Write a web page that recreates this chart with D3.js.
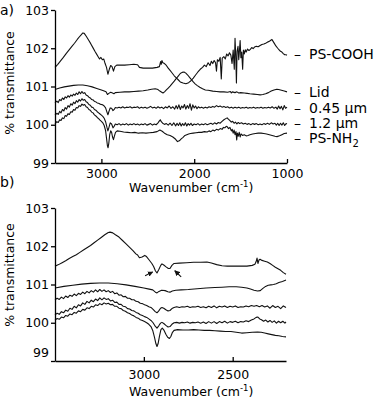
<!DOCTYPE html>
<html>
<head>
<meta charset="utf-8">
<script src="https://cdn.jsdelivr.net/npm/d3@7"></script>
<style>
body { margin: 0; background: #fff; }
svg { display: block; font-family: "DejaVu Sans", sans-serif; }
.axis path, .axis line { stroke: #000; stroke-width: 1.3; }
.axis text { font-size: 12.5px; fill: #000; font-family: "DejaVu Sans", sans-serif; }
.spec { fill: none; stroke: #111; stroke-width: 1.1; stroke-linejoin: round; }
.lbl { font-size: 12.5px; fill: #000; }
.leg { font-size: 14px; fill: #000; }
</style>
</head>
<body>
<div id="chart"></div>
<script>
// ---- panel a) spectra, [wavenumber, %T]
var aCooh = [[3500,101.50],[3470,101.58],[3440,101.67],[3410,101.76],[3380,101.86],[3350,101.95],[3320,102.04],[3290,102.13],[3260,102.23],[3230,102.32],[3200,102.40],[3185,102.39],[3165,102.32],[3140,102.22],[3115,102.12],[3090,102.01],[3070,101.92],[3050,101.84],[3035,101.78],[3020,101.72],[3005,101.76],[2990,101.70],[2975,101.72],[2960,101.60],[2945,101.50],[2930,101.32],[2915,101.45],[2900,101.55],[2885,101.52],[2870,101.40],[2855,101.52],[2835,101.56],[2800,101.56],[2750,101.56],[2700,101.57],[2650,101.58],[2610,101.57],[2590,101.50],[2550,101.48],[2500,101.48],[2450,101.48],[2400,101.50],[2375,101.52],[2362,101.65],[2355,101.58],[2348,101.68],[2338,101.62],[2320,101.60],[2300,101.55],[2280,101.48],[2260,101.42],[2240,101.36],[2215,101.28],[2190,101.22],[2170,101.17],[2150,101.12],[2120,101.09],[2090,101.07],[2060,101.10],[2035,101.15],[2010,101.22],[1985,101.30],[1960,101.38],[1935,101.45],[1910,101.50],[1890,101.56],[1870,101.52],[1850,101.62],[1830,101.55],[1815,101.66],[1800,101.60],[1785,101.68],[1770,101.62],[1760,101.40],[1750,101.70],[1735,101.66],[1720,101.76],[1708,101.20],[1698,101.74],[1680,101.78],[1665,101.72],[1650,101.85],[1635,101.80],[1620,101.88],[1605,101.82],[1592,101.60],[1580,101.95],[1568,101.45],[1560,102.26],[1552,101.80],[1545,101.09],[1538,101.92],[1528,102.05],[1520,101.70],[1512,101.95],[1505,102.20],[1497,101.75],[1488,101.90],[1478,101.45],[1470,101.95],[1460,101.85],[1450,101.96],[1440,101.90],[1425,101.98],[1410,101.94],[1395,101.97],[1380,102.02],[1365,101.99],[1350,102.03],[1330,102.05],[1310,102.04],[1290,102.07],[1270,102.10],[1250,102.11],[1230,102.13],[1210,102.16],[1190,102.18],[1175,102.21],[1162,102.23],[1150,102.18],[1135,102.12],[1120,102.06],[1100,102.00],[1085,101.96],[1070,101.92],[1055,101.90],[1040,101.86],[1025,101.83],[1010,101.83],[1000,101.82]];

var aLid = [[3500,100.92],[3450,100.96],[3400,100.99],[3350,101.01],[3300,101.03],[3250,101.04],[3200,101.04],[3150,101.02],[3100,100.99],[3050,100.95],[3000,100.91],[2970,100.88],[2950,100.86],[2935,100.79],[2920,100.82],[2900,100.85],[2880,100.83],[2865,100.81],[2850,100.84],[2800,100.85],[2750,100.86],[2700,100.86],[2650,100.87],[2600,100.88],[2550,100.89],[2500,100.91],[2460,100.93],[2420,100.94],[2390,100.92],[2370,100.88],[2350,100.85],[2336,100.83],[2320,100.86],[2300,100.91],[2280,100.96],[2260,101.01],[2240,101.07],[2215,101.14],[2190,101.22],[2170,101.28],[2150,101.34],[2130,101.37],[2110,101.38],[2090,101.35],[2070,101.30],[2050,101.24],[2030,101.18],[2010,101.12],[1990,101.07],[1970,101.03],[1940,100.98],[1910,100.94],[1880,100.91],[1850,100.90],[1800,100.88],[1760,100.87],[1720,100.86],[1680,100.86],[1640,100.85],[1610,100.87],[1600,100.83],[1590,100.86],[1560,100.84],[1540,100.86],[1520,100.83],[1500,100.84],[1460,100.83],[1430,100.82],[1400,100.81],[1360,100.80],[1320,100.79],[1290,100.78],[1260,100.79],[1230,100.81],[1200,100.84],[1170,100.88],[1140,100.91],[1110,100.93],[1090,100.92],[1060,100.90],[1030,100.88],[1000,100.86]];

var a045 = [[3500,100.57],[3480,100.62],[3465,100.58],[3450,100.66],[3435,100.63],[3420,100.70],[3405,100.66],[3390,100.73],[3375,100.70],[3360,100.76],[3345,100.72],[3330,100.78],[3315,100.75],[3300,100.80],[3285,100.77],[3270,100.83],[3255,100.79],[3240,100.86],[3225,100.81],[3210,100.87],[3195,100.82],[3180,100.84],[3165,100.78],[3150,100.76],[3135,100.72],[3120,100.70],[3105,100.66],[3090,100.65],[3075,100.61],[3060,100.60],[3045,100.57],[3030,100.56],[3015,100.54],[3000,100.53],[2985,100.52],[2970,100.49],[2955,100.44],[2940,100.33],[2930,100.26],[2920,100.34],[2905,100.44],[2890,100.43],[2875,100.37],[2862,100.40],[2850,100.45],[2830,100.44],[2810,100.46],[2790,100.44],[2770,100.47],[2750,100.44],[2730,100.46],[2710,100.45],[2690,100.47],[2670,100.44],[2650,100.46],[2630,100.45],[2610,100.47],[2590,100.43],[2570,100.46],[2550,100.44],[2530,100.46],[2510,100.43],[2490,100.45],[2470,100.48],[2450,100.44],[2430,100.46],[2410,100.43],[2390,100.47],[2370,100.44],[2350,100.46],[2330,100.42],[2310,100.47],[2290,100.44],[2270,100.49],[2250,100.43],[2230,100.47],[2210,100.41],[2195,100.50],[2180,100.42],[2165,100.52],[2150,100.40],[2135,100.49],[2120,100.44],[2105,100.53],[2090,100.41],[2075,100.50],[2060,100.43],[2045,100.55],[2030,100.38],[2015,100.52],[2000,100.44],[1985,100.49],[1970,100.42],[1955,100.47],[1940,100.44],[1920,100.46],[1900,100.43],[1880,100.46],[1860,100.44],[1840,100.47],[1820,100.45],[1800,100.48],[1780,100.46],[1760,100.50],[1740,100.47],[1720,100.49],[1700,100.46],[1680,100.48],[1660,100.45],[1640,100.47],[1620,100.44],[1600,100.46],[1580,100.43],[1560,100.46],[1540,100.44],[1520,100.46],[1500,100.43],[1480,100.45],[1460,100.44],[1440,100.46],[1420,100.43],[1400,100.45],[1380,100.44],[1360,100.46],[1340,100.43],[1320,100.45],[1300,100.44],[1280,100.46],[1260,100.43],[1240,100.45],[1220,100.44],[1200,100.46],[1180,100.44],[1160,100.47],[1140,100.43],[1120,100.46],[1105,100.41],[1090,100.49],[1075,100.42],[1060,100.48],[1045,100.39],[1030,100.50],[1015,100.43],[1000,100.46]];

var a12 = [[3500,100.25],[3480,100.30],[3465,100.27],[3450,100.35],[3435,100.31],[3420,100.40],[3405,100.36],[3390,100.45],[3375,100.41],[3360,100.50],[3345,100.46],[3330,100.55],[3315,100.51],[3300,100.59],[3285,100.55],[3270,100.63],[3255,100.59],[3240,100.66],[3225,100.62],[3210,100.68],[3195,100.64],[3180,100.66],[3165,100.60],[3150,100.58],[3135,100.53],[3120,100.51],[3105,100.46],[3090,100.45],[3075,100.40],[3060,100.38],[3045,100.34],[3030,100.31],[3015,100.28],[3000,100.25],[2985,100.22],[2970,100.17],[2955,100.08],[2940,99.93],[2930,99.84],[2920,99.92],[2905,100.05],[2890,100.02],[2875,99.92],[2862,99.96],[2850,100.02],[2830,100.00],[2810,100.03],[2790,99.99],[2770,100.02],[2750,100.00],[2730,100.03],[2710,99.99],[2690,100.02],[2670,100.00],[2650,100.03],[2630,100.00],[2610,100.02],[2590,99.99],[2570,100.02],[2550,100.00],[2530,100.03],[2510,99.99],[2490,100.01],[2470,100.03],[2450,99.99],[2430,100.02],[2410,100.00],[2390,100.05],[2375,100.10],[2365,100.13],[2355,100.08],[2340,100.04],[2320,100.01],[2300,100.03],[2280,99.99],[2260,100.04],[2240,99.98],[2220,100.05],[2200,99.97],[2185,100.04],[2170,99.98],[2155,100.05],[2140,99.97],[2125,100.03],[2110,99.98],[2095,100.05],[2080,99.97],[2065,100.03],[2050,99.99],[2035,100.04],[2020,99.98],[2000,100.02],[1980,100.00],[1960,100.03],[1940,99.99],[1920,100.02],[1900,100.00],[1880,100.03],[1860,100.00],[1840,100.02],[1820,100.04],[1800,100.01],[1780,100.05],[1760,100.02],[1740,100.06],[1720,100.04],[1700,100.09],[1680,100.13],[1660,100.16],[1645,100.18],[1630,100.14],[1615,100.11],[1600,100.07],[1585,100.09],[1570,100.04],[1555,100.07],[1540,100.02],[1525,100.06],[1510,100.03],[1490,100.05],[1470,100.02],[1450,100.04],[1430,100.01],[1410,100.03],[1390,100.00],[1370,100.03],[1350,100.01],[1330,100.03],[1310,100.00],[1290,100.02],[1270,100.00],[1250,100.03],[1230,100.01],[1210,100.04],[1190,100.01],[1170,100.05],[1150,100.02],[1130,100.04],[1115,99.99],[1100,100.04],[1085,99.98],[1070,100.04],[1055,99.99],[1040,100.05],[1025,99.98],[1010,100.03],[1000,100.02]];

var aNh2 = [[3500,100.02],[3480,100.08],[3465,100.06],[3450,100.13],[3435,100.11],[3420,100.18],[3405,100.16],[3390,100.24],[3375,100.22],[3360,100.29],[3345,100.27],[3330,100.34],[3315,100.33],[3300,100.40],[3285,100.38],[3270,100.45],[3255,100.44],[3240,100.50],[3225,100.48],[3210,100.54],[3195,100.51],[3180,100.53],[3165,100.47],[3150,100.45],[3135,100.40],[3120,100.38],[3105,100.33],[3090,100.31],[3075,100.26],[3060,100.23],[3045,100.19],[3030,100.16],[3015,100.12],[3000,100.09],[2985,100.05],[2970,99.98],[2955,99.85],[2945,99.65],[2935,99.45],[2928,99.40],[2920,99.52],[2910,99.75],[2900,99.84],[2890,99.80],[2880,99.68],[2870,99.61],[2860,99.70],[2848,99.80],[2830,99.84],[2800,99.83],[2760,99.81],[2720,99.80],[2680,99.79],[2640,99.80],[2600,99.78],[2560,99.79],[2520,99.78],[2480,99.79],[2440,99.80],[2400,99.82],[2370,99.86],[2345,99.83],[2320,99.78],[2290,99.74],[2260,99.72],[2230,99.68],[2200,99.62],[2180,99.56],[2160,99.58],[2140,99.63],[2120,99.67],[2100,99.72],[2080,99.74],[2060,99.76],[2040,99.77],[2010,99.78],[1980,99.79],[1950,99.80],[1920,99.80],[1890,99.82],[1860,99.81],[1840,99.84],[1820,99.82],[1800,99.86],[1780,99.84],[1760,99.88],[1740,99.86],[1720,99.90],[1700,99.88],[1685,99.93],[1670,99.92],[1655,99.96],[1645,99.95],[1630,99.90],[1615,99.93],[1600,99.84],[1590,99.88],[1580,99.78],[1570,99.86],[1560,99.74],[1550,99.82],[1542,99.60],[1535,99.78],[1525,99.70],[1515,99.80],[1505,99.68],[1495,99.76],[1480,99.72],[1460,99.74],[1440,99.71],[1420,99.72],[1400,99.74],[1370,99.76],[1340,99.77],[1310,99.78],[1280,99.78],[1250,99.77],[1220,99.76],[1190,99.74],[1160,99.72],[1130,99.70],[1107,99.69],[1080,99.71],[1055,99.74],[1030,99.77],[1000,99.78]];

// ---- panel b) spectra, close-up of 3500-2200
var bTop = [[3500,101.48],[3480,101.52],[3460,101.57],[3440,101.62],[3420,101.68],[3400,101.73],[3380,101.78],[3360,101.84],[3340,101.90],[3320,101.96],[3300,102.02],[3280,102.09],[3260,102.16],[3240,102.23],[3220,102.30],[3200,102.36],[3190,102.37],[3175,102.35],[3160,102.30],[3140,102.24],[3120,102.15],[3100,102.06],[3080,101.97],[3060,101.88],[3045,101.80],[3035,101.77],[3025,101.70],[3010,101.72],[2995,101.76],[2985,101.73],[2970,101.64],[2955,101.55],[2945,101.47],[2935,101.36],[2926,101.30],[2915,101.40],[2905,101.50],[2898,101.54],[2888,101.51],[2875,101.46],[2862,101.42],[2853,101.42],[2842,101.50],[2830,101.55],[2800,101.56],[2760,101.57],[2720,101.58],[2680,101.58],[2645,101.59],[2620,101.56],[2590,101.52],[2560,101.49],[2530,101.48],[2500,101.48],[2460,101.48],[2420,101.48],[2390,101.50],[2375,101.53],[2368,101.60],[2363,101.69],[2358,101.55],[2352,101.64],[2346,101.66],[2335,101.63],[2320,101.61],[2305,101.59],[2290,101.55],[2275,101.50],[2260,101.45],[2245,101.41],[2230,101.37],[2215,101.31],[2200,101.27]];

var bLid = [[3500,100.91],[3450,100.95],[3400,100.98],[3350,101.01],[3300,101.03],[3250,101.04],[3200,101.04],[3150,101.02],[3100,100.99],[3050,100.95],[3000,100.91],[2970,100.88],[2950,100.86],[2935,100.80],[2926,100.78],[2915,100.82],[2900,100.85],[2880,100.84],[2865,100.81],[2853,100.80],[2840,100.83],[2820,100.85],[2790,100.86],[2750,100.87],[2700,100.89],[2650,100.91],[2600,100.92],[2560,100.93],[2520,100.94],[2480,100.94],[2450,100.93],[2420,100.91],[2400,100.88],[2380,100.85],[2360,100.83],[2345,100.84],[2330,100.90],[2315,100.95],[2300,100.98],[2285,100.99],[2270,101.00],[2255,101.02],[2240,101.05],[2220,101.08],[2200,101.12]];

var b045 = [[3500,100.60],[3488,100.64],[3476,100.61],[3464,100.67],[3452,100.63],[3440,100.70],[3428,100.66],[3416,100.72],[3404,100.69],[3392,100.75],[3380,100.71],[3368,100.77],[3356,100.74],[3344,100.80],[3332,100.76],[3320,100.82],[3308,100.78],[3296,100.84],[3284,100.80],[3272,100.86],[3260,100.81],[3248,100.87],[3236,100.82],[3224,100.86],[3212,100.81],[3200,100.84],[3188,100.79],[3176,100.82],[3164,100.76],[3152,100.78],[3140,100.72],[3128,100.73],[3116,100.68],[3104,100.69],[3092,100.64],[3080,100.64],[3068,100.60],[3056,100.60],[3044,100.56],[3032,100.55],[3020,100.51],[3008,100.50],[2996,100.47],[2984,100.45],[2972,100.42],[2960,100.40],[2948,100.35],[2936,100.29],[2926,100.26],[2916,100.31],[2906,100.38],[2898,100.40],[2888,100.38],[2876,100.34],[2864,100.31],[2853,100.32],[2842,100.37],[2830,100.40],[2815,100.42],[2800,100.40],[2785,100.42],[2770,100.41],[2755,100.43],[2740,100.40],[2725,100.42],[2710,100.41],[2695,100.43],[2680,100.40],[2665,100.42],[2650,100.39],[2635,100.43],[2620,100.40],[2605,100.44],[2590,100.39],[2575,100.43],[2560,100.41],[2545,100.44],[2530,100.40],[2515,100.43],[2500,100.41],[2485,100.44],[2470,100.40],[2455,100.42],[2440,100.41],[2425,100.44],[2410,100.42],[2395,100.45],[2380,100.43],[2365,100.45],[2350,100.42],[2335,100.45],[2320,100.41],[2305,100.44],[2290,100.38],[2275,100.45],[2260,100.40],[2245,100.43],[2230,100.37],[2215,100.44],[2200,100.40]];

var b12 = [[3500,100.20],[3488,100.25],[3476,100.22],[3464,100.29],[3452,100.26],[3440,100.33],[3428,100.30],[3416,100.38],[3404,100.35],[3392,100.43],[3380,100.39],[3368,100.47],[3356,100.44],[3344,100.52],[3332,100.48],[3320,100.56],[3308,100.52],[3296,100.59],[3284,100.55],[3272,100.62],[3260,100.58],[3248,100.65],[3236,100.60],[3224,100.65],[3212,100.61],[3200,100.63],[3188,100.57],[3176,100.59],[3164,100.53],[3152,100.54],[3140,100.48],[3128,100.48],[3116,100.43],[3104,100.42],[3092,100.37],[3080,100.36],[3068,100.32],[3056,100.31],[3044,100.27],[3032,100.25],[3020,100.21],[3008,100.19],[2996,100.16],[2984,100.14],[2972,100.10],[2960,100.06],[2948,100.00],[2936,99.91],[2926,99.86],[2916,99.92],[2906,99.99],[2898,100.01],[2888,99.98],[2876,99.93],[2864,99.89],[2853,99.90],[2842,99.96],[2830,100.00],[2815,100.01],[2800,99.99],[2785,100.01],[2770,100.00],[2755,100.02],[2740,99.99],[2725,100.01],[2710,100.00],[2695,100.02],[2680,99.99],[2665,100.02],[2650,99.98],[2635,100.03],[2620,99.99],[2605,100.03],[2590,99.98],[2575,100.03],[2560,100.00],[2545,100.04],[2530,99.99],[2515,100.03],[2500,100.01],[2485,100.04],[2470,100.00],[2455,100.03],[2440,100.02],[2425,100.05],[2410,100.03],[2395,100.07],[2380,100.10],[2368,100.14],[2358,100.15],[2348,100.10],[2338,100.08],[2326,100.04],[2314,100.07],[2302,100.02],[2290,100.06],[2278,100.01],[2266,100.05],[2254,99.99],[2242,100.04],[2230,100.00],[2218,100.04],[2206,99.99],[2200,100.02]];

var bNh2 = [[3500,100.07],[3488,100.11],[3476,100.09],[3464,100.15],[3452,100.13],[3440,100.19],[3428,100.17],[3416,100.23],[3404,100.21],[3392,100.27],[3380,100.25],[3368,100.31],[3356,100.29],[3344,100.35],[3332,100.33],[3320,100.39],[3308,100.37],[3296,100.43],[3284,100.41],[3272,100.47],[3260,100.45],[3248,100.50],[3236,100.47],[3224,100.52],[3212,100.49],[3200,100.51],[3188,100.47],[3176,100.48],[3164,100.43],[3152,100.43],[3140,100.38],[3128,100.37],[3116,100.32],[3104,100.30],[3092,100.26],[3080,100.24],[3068,100.20],[3056,100.18],[3044,100.14],[3032,100.12],[3020,100.08],[3008,100.06],[2996,100.03],[2984,100.00],[2972,99.96],[2960,99.90],[2950,99.80],[2940,99.62],[2932,99.45],[2926,99.38],[2920,99.45],[2912,99.65],[2904,99.82],[2896,99.86],[2886,99.80],[2876,99.70],[2866,99.62],[2856,99.59],[2848,99.64],[2840,99.74],[2830,99.80],[2810,99.82],[2780,99.81],[2750,99.81],[2720,99.82],[2690,99.81],[2660,99.80],[2630,99.80],[2600,99.79],[2570,99.78],[2540,99.77],[2510,99.77],[2480,99.75],[2450,99.73],[2420,99.74],[2390,99.75],[2360,99.76],[2340,99.75],[2320,99.73],[2300,99.71],[2280,99.69],[2260,99.67],[2240,99.66],[2220,99.64],[2200,99.63]];

// arrows in panel b, [fromW, fromT, toW, toT]
var bArrows = [[2993,101.23,2950,101.33],[2790,101.20,2826,101.36]];

var yTicks = [99, 100, 101, 102, 103];
var aTicks = [3000, 2000, 1000];
var bTicks = [3000, 2500];
var legendNames = ["PS-COOH", "Lid", "0.45 µm", "1.2 µm", "PS-NH"];
var legendAt = [101.85, 100.86, 100.44, 100.04, 99.66];

var W = 379, H = 402;
var svg = d3.select("#chart").append("svg")
    .attr("width", W)
    .attr("height", H);

var defs = svg.append("defs");
defs.append("marker")
    .attr("id", "head")
    .attr("viewBox", "0 0 10 10")
    .attr("refX", 9).attr("refY", 5)
    .attr("markerWidth", 5).attr("markerHeight", 5)
    .attr("orient", "auto")
  .append("path")
    .attr("d", "M0,0L10,5L0,10z")
    .attr("fill", "#111");

// p: tick label padding, titleDy: baseline of x title under axis, ymid: centre of y title
function drawPanel(g, x, y, series, xTicks, p, titleDy, ymid) {
    var line = d3.line()
        .x(function(d) { return x(d[0]); })
        .y(function(d) { return y(d[1]); });

    series.forEach(function(s) {
        g.append("path").attr("class", "spec").attr("d", line(s));
    });

    g.append("g")
        .attr("class", "axis")
        .attr("transform", "translate(0," + y.range()[0] + ")")
        .call(d3.axisBottom(x).tickValues(xTicks).tickSize(-4).tickSizeOuter(0).tickPadding(p).tickFormat(d3.format("d")));

    g.append("g")
        .attr("class", "axis")
        .attr("transform", "translate(" + x.range()[0] + ",0)")
        .call(d3.axisLeft(y).tickValues(yTicks).tickSize(4).tickSizeOuter(0).tickPadding(2).tickFormat(d3.format("d")));

    // x title
    var t = g.append("text").attr("class", "lbl")
        .attr("x", 129).attr("y", y.range()[0] + titleDy);
    t.append("tspan").text("Wavenumber (cm");
    t.append("tspan").attr("font-size", 8.5).attr("dy", -5).text("-1");
    t.append("tspan").attr("dy", 5).text(")");

    // y title
    g.append("text").attr("class", "lbl")
        .attr("transform", "translate(10," + ymid + ") rotate(-90)")
        .attr("text-anchor", "middle")
        .attr("dy", "0.35em")
        .text("% transmittance");
}

// ---- panel a
var xa = d3.scaleLinear().domain([3500, 1000]).range([55, 287]);
var ya = d3.scaleLinear().domain([99, 103]).range([163, 10]);
var ga = svg.append("g");
drawPanel(ga, xa, ya, [aCooh, aLid, a045, a12, aNh2], aTicks, 6, 28.5, 83);

legendNames.forEach(function(n, i) {
    var tx = ga.append("text").attr("class", "leg")
        .attr("x", 294).attr("y", ya(legendAt[i]))
        .attr("dy", "0.36em");
    tx.append("tspan").text("–");
    tx.append("tspan").attr("x", 309).text(n);
    if (n == "PS-NH") {
        tx.append("tspan").attr("font-size", 10).attr("dy", 4).text("2");
    }
});

// ---- panel b
var xb = d3.scaleLinear().domain([3500, 2200]).range([55, 286]);
var yb = d3.scaleLinear().domain([99, 103]).range([361, 208]);
var gb = svg.append("g");
drawPanel(gb, xb, yb, [bTop, bLid, b045, b12, bNh2], bTicks, 9.5, 34.5, 275);

// the 99 label in b) sits a bit higher in the original figure
gb.selectAll(".axis text").filter(function(d) { return d === 99 && this.getAttribute("dy") === "0.32em"; })
    .attr("dy", "-0.35em");

bArrows.forEach(function(a) {
    gb.append("line")
        .attr("x1", xb(a[0])).attr("y1", yb(a[1]))
        .attr("x2", xb(a[2])).attr("y2", yb(a[3]))
        .attr("stroke", "#111").attr("stroke-width", 1.1)
        .attr("marker-end", "url(#head)");
});

// panel letters
svg.append("text").attr("class", "leg").attr("x", 0).attr("y", 15).text("a)");
svg.append("text").attr("class", "leg").attr("x", 0).attr("y", 187).text("b)");
</script>
</body>
</html>
